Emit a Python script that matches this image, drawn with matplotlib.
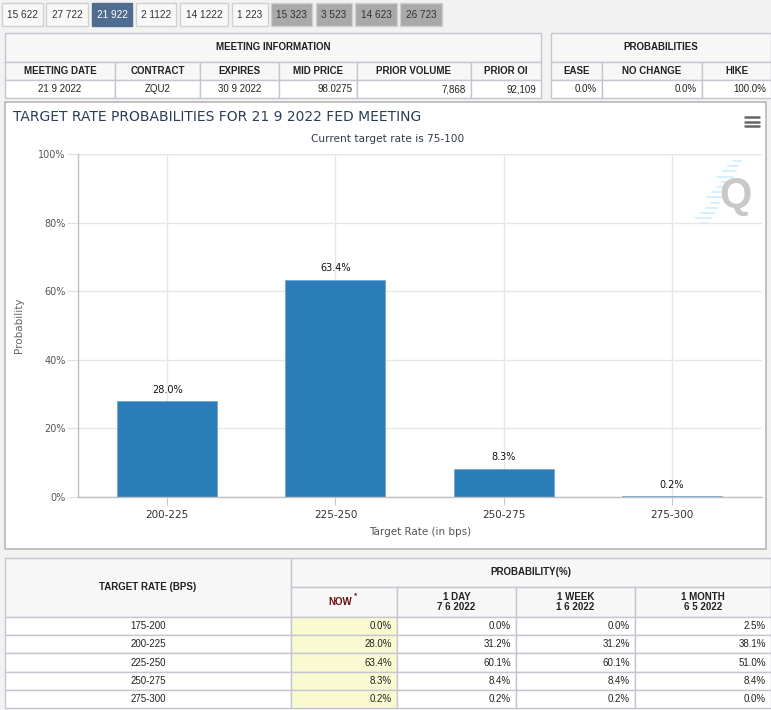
import numpy as np
import matplotlib.pyplot as plt
from matplotlib.patches import Rectangle

# tabs across the top
tab_labels = ['15 622', '27 722', '21 922', '2 1122', '14 1222', '1 223',
              '15 323', '3 523', '14 623', '26 723']
tab_edges = [(2, 43), (46, 88), (92, 132), (136, 176), (180, 228), (232, 268),
             (271, 312), (316, 352), (355, 397), (400, 442)]
active_tab = 2
gray_tabs = [6, 7, 8, 9]

# meeting information
meeting_cols = ['MEETING DATE', 'CONTRACT', 'EXPIRES', 'MID PRICE', 'PRIOR VOLUME', 'PRIOR OI']
meeting_vals = ['21 9 2022', 'ZQU2', '30 9 2022', '98.0275', '7,868', '92,109']
prob_cols = ['EASE', 'NO CHANGE', 'HIKE']
prob_vals = ['0.0%', '0.0%', '100.0%']

# probability table
rates = ['175-200', '200-225', '225-250', '250-275', '275-300']
now = [0.0, 28.0, 63.4, 8.3, 0.2]
one_day = [0.0, 31.2, 60.1, 8.4, 0.2]
one_week = [0.0, 31.2, 60.1, 8.4, 0.2]
one_month = [2.5, 38.1, 51.0, 8.4, 0.0]
hist_heads = ['1 DAY\n7 6 2022', '1 WEEK\n1 6 2022', '1 MONTH\n6 5 2022']

# chart shows the target rates from 200-225 up
chart_rates = rates[1:]
chart_probs = now[1:]

W, H = 771, 710
fig = plt.figure(figsize=(W / 100, H / 100), dpi=100)
bg = fig.add_axes([0, 0, 1, 1])
bg.set_xlim(0, W)
bg.set_ylim(H, 0)
bg.axis('off')

border = '#c6c6d0'
head_bg = '#f7f7f7'
tfont = ['Liberation Sans', 'DejaVu Sans']


def box(x0, y0, x1, y1, fc='white', ec=border, lw=1, z=1):
    bg.add_patch(Rectangle((x0, y0), x1 - x0, y1 - y0, facecolor=fc,
                           edgecolor=ec, linewidth=lw, zorder=z))


def txt(x, y, s, ha='center', size=7, bold=False, color='#222222', z=5):
    bg.text(x, y, s, ha=ha, va='center', fontsize=size, family=tfont,
            fontweight='bold' if bold else 'normal', color=color, zorder=z,
            linespacing=1.1)


# page background
box(0, 0, W, H, fc='#f2f2f2', ec='none', z=0)

# tabs
for i, (lab, (a, b)) in enumerate(zip(tab_labels, tab_edges)):
    if i == active_tab:
        fc, ec, col = '#4f6d8f', '#4f6d8f', 'white'
    elif i in gray_tabs:
        fc, ec, col = '#a9a9a9', '#cfcfcf', '#333333'
    else:
        fc, ec, col = '#f8f8f8', '#d0d0d0', '#333333'
    box(a, 3, b, 26, fc=fc, ec=ec)
    txt((a + b) / 2, 15, lab, size=7.2, color=col)

# meeting information table
mx = [5, 115, 200, 279, 357, 471, 541]
box(5, 33, 541, 62, fc=head_bg)
txt(273, 47, 'MEETING INFORMATION', bold=True)
for i in range(6):
    box(mx[i], 62, mx[i + 1], 80, fc=head_bg)
    box(mx[i], 80, mx[i + 1], 98, fc='white')
    txt((mx[i] + mx[i + 1]) / 2, 71, meeting_cols[i], bold=True)
    if i < 3:
        txt((mx[i] + mx[i + 1]) / 2, 89, meeting_vals[i])
    else:
        txt(mx[i + 1] - 5, 89, meeting_vals[i], ha='right')

# probabilities table
px = [551, 602, 702, 771]
box(551, 33, 771, 62, fc=head_bg)
txt(661, 47, 'PROBABILITIES', bold=True)
for i in range(3):
    box(px[i], 62, px[i + 1], 80, fc=head_bg)
    box(px[i], 80, px[i + 1], 98, fc='white')
    txt((px[i] + px[i + 1]) / 2, 71, prob_cols[i], bold=True)
    txt(px[i + 1] - 5, 89, prob_vals[i], ha='right')

# chart panel
box(5, 102, 766, 549, fc='white', ec='#b8b8b8', lw=1.2)
bg.text(13, 117, 'TARGET RATE PROBABILITIES FOR 21 9 2022 FED MEETING',
        ha='left', va='center', fontsize=10, color='#2c3d57', zorder=5)
bg.text(388, 139, 'Current target rate is 75-100', ha='center', va='center',
        fontsize=7.6, color='#333b4a', zorder=5)
for yy in (117, 121.5, 126):
    bg.plot([745, 759], [yy, yy], color='#666666', lw=1.8, solid_capstyle='round', zorder=5)

# watermark
for k in range(13):
    y0 = 161 + k * 5.2
    xr = 741 - k * 2.7
    ln = 8 + (k % 4) * 2.5
    bg.plot([xr - ln, xr], [y0, y0], color='#c8eefa', lw=1.1, zorder=3)
bg.text(735, 196, 'Q', ha='center', va='center', fontsize=30, fontweight='bold',
        family=tfont, color='#c8c8c8', zorder=4)

ax = fig.add_axes([78 / W, 1 - 497 / H, (762 - 78) / W, (497 - 154) / H])
ax.patch.set_alpha(0)
x = np.arange(len(chart_rates))
ax.bar(x, chart_probs, width=0.594, color='#2a7db8', edgecolor='#6fa8d3',
       linewidth=0.6, zorder=2)
for xi, v in zip(x, chart_probs):
    ax.annotate(f'{v:.1f}%', (xi, v), xytext=(0, 8), textcoords='offset points',
                ha='center', va='center', fontsize=7, color='#111111', zorder=4)

ax.set_xlim(-0.53, 3.535)
ax.set_ylim(0, 100)
ax.set_xticks(x)
ax.set_xticklabels(chart_rates)
ax.set_yticks(np.arange(0, 101, 20))
ax.set_yticklabels([f'{t}%' for t in range(0, 101, 20)])
ax.grid(True, color='#e6e6e6', lw=1, zorder=0)
ax.set_axisbelow(True)
for s in ('top', 'right'):
    ax.spines[s].set_visible(False)
for s in ('left', 'bottom'):
    ax.spines[s].set_color('#c0c0c0')
    ax.spines[s].set_linewidth(1)
    ax.spines[s].set_zorder(3)
ax.tick_params(axis='y', length=8, color='#e0e0e0', pad=1, labelsize=7, labelcolor='#555555')
ax.tick_params(axis='x', length=6, color='#c8c8c8', pad=3, labelsize=7.5, labelcolor='#333333')
ax.set_xlabel('Target Rate (in bps)', fontsize=7.5, color='#555555')
ax.set_ylabel('Probability', fontsize=7.5, color='#666666')
ax.xaxis.set_label_coords(0.5, (497 - 527) / 343)
ax.yaxis.set_label_coords((24 - 78) / 684, 0.5)

# bottom probability table
box(5, 558, 291, 617, fc=head_bg)
txt(148, 587, 'TARGET RATE (BPS)', bold=True)
box(291, 558, 771, 587, fc=head_bg)
txt(531, 572, 'PROBABILITY(%)', bold=True)
bx = [291, 397, 516, 635, 771]
box(bx[0], 587, bx[1], 617, fc=head_bg)
txt(340, 602, 'NOW', bold=True, color='#6b1010')
txt(356, 596, '*', bold=True, color='#6b1010', size=6)
for i, hd in enumerate(hist_heads):
    box(bx[i + 1], 587, bx[i + 2], 617, fc=head_bg)
    txt((bx[i + 1] + bx[i + 2]) / 2, 602, hd, bold=True)

row_h = 18.2
cols = [now, one_day, one_week, one_month]
for r, rate in enumerate(rates):
    y0 = 617 + r * row_h
    y1 = y0 + row_h
    yc = (y0 + y1) / 2
    box(5, y0, 291, y1)
    txt(148, yc, rate)
    for c, series in enumerate(cols):
        fc = '#fafad2' if c == 0 else 'white'
        box(bx[c], y0, bx[c + 1], y1, fc=fc)
        txt(bx[c + 1] - 5, yc, f'{series[r]:.1f}%', ha='right')

fig.savefig('out.png', dpi=100)
